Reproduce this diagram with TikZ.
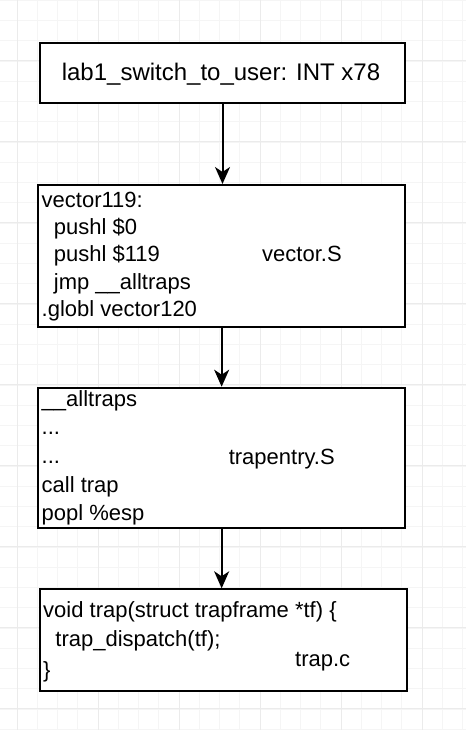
\documentclass[tikz,border=0pt]{standalone}
\usepackage{fontspec}
\setmainfont{Liberation Sans}
\usetikzlibrary{arrows.meta}
\begin{document}
\begin{tikzpicture}[x=1pt,y=-1pt,
  gminor/.style={draw=black!4,line width=1pt},
  gmajor/.style={draw=black!8,line width=1pt},
  box/.style={draw=black,line width=2pt,inner sep=0pt,anchor=north west},
  txt/.style={inner sep=0pt,anchor=base west,font=\fontsize{22pt}{27pt}\selectfont},
  conn/.style={line width=2pt,-{Stealth[length=17pt,width=15pt,inset=5pt]}}]
\useasboundingbox (0,0) rectangle (466,730);
\fill[white] (0,0) rectangle (466,730);
% background grid
\foreach \i in {0,...,23} \draw[gminor] ({-3.25+20.25*\i},0) -- ++(0,730);
\foreach \j in {0,...,36} \draw[gminor] (0,{0.45+20.25*\j}) -- ++(466,0);
\foreach \i in {0,...,5} \draw[gmajor] ({17+81*\i},0) -- ++(0,730);
\foreach \j in {0,...,8} \draw[gmajor] (0,{60.7+81*\j}) -- ++(466,0);
% boxes
\node[box,fill=white,minimum width=365pt,minimum height=60pt] (b1) at (39,42) {};
\node[box,fill=white,minimum width=366.7pt,minimum height=141.7pt] (b2) at (37.3,184) {};
\node[box,fill=white,minimum width=366.7pt,minimum height=140.6pt] (b3) at (37.3,386.7) {};
\node[box,fill=white,minimum width=366.7pt,minimum height=101.7pt] (b4) at (39.3,588.3) {};
% connectors
\draw[conn] (b1.south) -- (b1.south |- b2.north);
\draw[conn] (b2.south) -- (b2.south |- b3.north);
\draw[conn] (b3.south) -- (b3.south |- b4.north);
% box 1 text
\node[inner sep=0pt,anchor=base,font=\fontsize{24pt}{29pt}\selectfont] (t1) at (221,80.3) {lab1\_switch\_to\_user: INT x78};
% box 2 text
\node[txt] (t21) at (41.5,207.5) {vector119:};
\node[txt] (t22) at (53.7,234.7) {pushl \$0};
\node[txt] (t23) at (53.7,261.9) {pushl \$119};
\node[txt] (t24) at (53.7,289.1) {jmp \_\_alltraps};
\node[txt] (t25) at (41.5,316.3) {.globl vector120};
\node[txt] (l2) at (262,261.7) {vector.S};
% box 3 text
\node[txt] (t31) at (41.5,406.3) {\_\_alltraps};
\node[txt] (t32) at (41.5,434.9) {...};
\node[txt] (t33) at (41.5,463.5) {...};
\node[txt] (t34) at (41.5,492.1) {call trap};
\node[txt] (t35) at (41.5,520.7) {popl \%esp};
\node[txt] (l3) at (228.6,464) {trapentry.S};
% box 4 text
\node[txt] (t41) at (43,617.5) {void trap(struct trapframe *tf) \{};
\node[txt] (t42) at (55.2,646.5) {trap\_dispatch(tf);};
\node[txt] (t43) at (43,677) {\}};
\node[txt] (l4) at (295,666.7) {trap.c};
\end{tikzpicture}
\end{document}
